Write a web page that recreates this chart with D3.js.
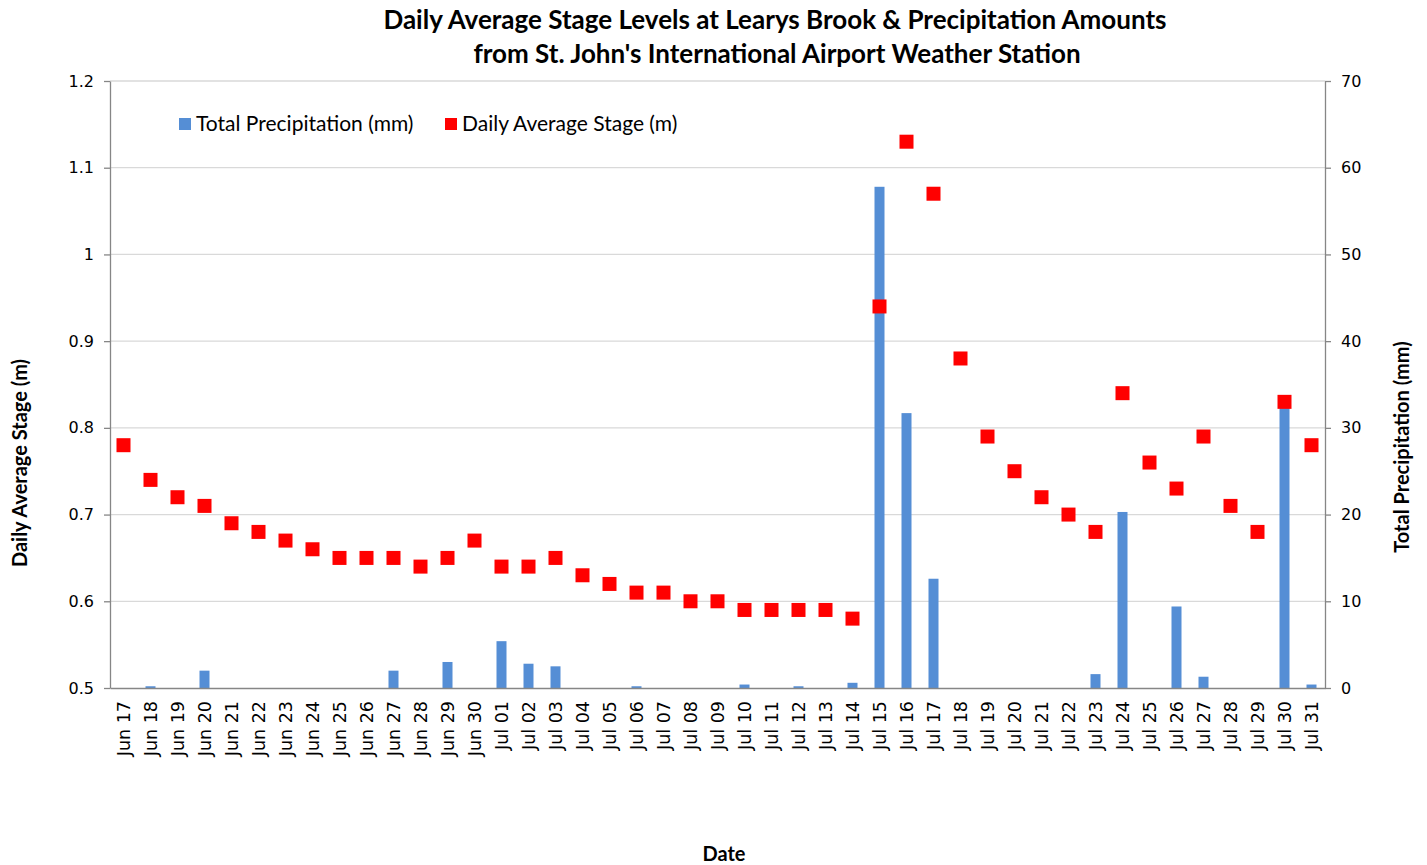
<!DOCTYPE html>
<html>
<head>
<meta charset="utf-8">
<script src="https://cdn.jsdelivr.net/npm/d3@7"></script>
<style>
  body { margin: 0; background: #fff; }
  text { font-family: "DejaVu Sans", sans-serif; fill: #000; }
  .title, .axis-title, .legend-label { font-family: Lato, "Open Sans", sans-serif; }
  .title, .axis-title { font-weight: bold; }
</style>
</head>
<body>
<div id="chart"></div>
<script>
// dates on the category axis
const dates = [
  'Jun 17','Jun 18','Jun 19','Jun 20','Jun 21','Jun 22','Jun 23','Jun 24','Jun 25','Jun 26',
  'Jun 27','Jun 28','Jun 29','Jun 30','Jul 01','Jul 02','Jul 03','Jul 04','Jul 05','Jul 06',
  'Jul 07','Jul 08','Jul 09','Jul 10','Jul 11','Jul 12','Jul 13','Jul 14','Jul 15','Jul 16',
  'Jul 17','Jul 18','Jul 19','Jul 20','Jul 21','Jul 22','Jul 23','Jul 24','Jul 25','Jul 26',
  'Jul 27','Jul 28','Jul 29','Jul 30','Jul 31'
];

// daily total precipitation (mm), right axis
const precipitation = [
  0, 0.2, 0, 2.0, 0, 0, 0, 0, 0, 0,
  2.0, 0, 3.0, 0, 5.4, 2.8, 2.5, 0, 0, 0.2,
  0, 0, 0, 0.4, 0, 0.2, 0, 0.6, 57.8, 31.7,
  12.6, 0, 0, 0, 0, 0, 1.6, 20.3, 0, 9.4,
  1.3, 0, 0, 32.4, 0.4
];

// daily average stage (m), left axis
const stage = [
  0.78, 0.74, 0.72, 0.71, 0.69, 0.68, 0.67, 0.66, 0.65, 0.65,
  0.65, 0.64, 0.65, 0.67, 0.64, 0.64, 0.65, 0.63, 0.62, 0.61,
  0.61, 0.60, 0.60, 0.59, 0.59, 0.59, 0.59, 0.58, 0.94, 1.13,
  1.07, 0.88, 0.79, 0.75, 0.72, 0.70, 0.68, 0.84, 0.76, 0.73,
  0.79, 0.71, 0.68, 0.83, 0.78
];

const stageTicks = [0.5, 0.6, 0.7, 0.8, 0.9, 1, 1.1, 1.2];
const precipTicks = [0, 10, 20, 30, 40, 50, 60, 70];

const width = 1427, height = 865;
const margin = { top: 81, right: 102, bottom: 177, left: 110 };
const innerW = width - margin.left - margin.right;
const innerH = height - margin.top - margin.bottom;

const svg = d3.select('#chart').append('svg')
  .attr('width', width)
  .attr('height', height);

const chart = svg.append('g')
  .attr('transform', `translate(${margin.left},${margin.top})`);

const x = d3.scaleBand().domain(dates).range([0, innerW]);
const yStage = d3.scaleLinear().domain([0.5, 1.2]).range([innerH, 0]);
const yPrecip = d3.scaleLinear().domain([0, 70]).range([innerH, 0]);

// horizontal gridlines
chart.append('g')
  .selectAll('line')
  .data(stageTicks.slice(1))
  .enter()
  .append('line')
  .attr('x1', 0)
  .attr('x2', innerW)
  .attr('y1', d => yStage(d))
  .attr('y2', d => yStage(d))
  .attr('stroke', '#d9d9d9')
  .attr('stroke-width', 1.3);

// precipitation bars
const barW = 10;
chart.append('g')
  .selectAll('rect')
  .data(precipitation)
  .enter()
  .append('rect')
  .attr('x', (d, i) => x(dates[i]) + x.bandwidth() / 2 - barW / 2)
  .attr('y', d => yPrecip(d))
  .attr('width', barW)
  .attr('height', d => innerH - yPrecip(d))
  .attr('fill', '#558ed5');

// stage markers
const mk = 14;
chart.append('g')
  .selectAll('rect')
  .data(stage)
  .enter()
  .append('rect')
  .attr('x', (d, i) => x(dates[i]) + x.bandwidth() / 2 - mk / 2)
  .attr('y', d => yStage(d) - mk / 2)
  .attr('width', mk)
  .attr('height', mk)
  .attr('fill', '#ff0000');

// axes
const styleAxis = (g, size) => {
  g.attr('font-family', null);
  g.select('.domain').attr('stroke', '#868686').attr('stroke-width', 1.3);
  g.selectAll('.tick line').attr('stroke', '#868686').attr('stroke-width', 1.3);
  g.selectAll('.tick text').style('font-size', size + 'px').attr('fill', '#000');
};

chart.append('g')
  .call(d3.axisLeft(yStage).tickValues(stageTicks).tickSize(6).tickPadding(10)
    .tickFormat(d => d3.format('')(+d.toFixed(1))).tickSizeOuter(0))
  .call(styleAxis, 16);

chart.append('g')
  .attr('transform', `translate(${innerW},0)`)
  .call(d3.axisRight(yPrecip).tickValues(precipTicks).tickSize(6).tickPadding(10).tickSizeOuter(0))
  .call(styleAxis, 16);

const xAxis = chart.append('g')
  .attr('transform', `translate(0,${innerH})`)
  .call(d3.axisBottom(x).tickSize(0).tickSizeOuter(0))
  .call(styleAxis, 17.5);
xAxis.selectAll('.tick text')
  .attr('transform', 'rotate(-90)')
  .attr('text-anchor', 'end')
  .attr('x', -13)
  .attr('y', 0)
  .attr('dy', '0.36em');

// titles
svg.append('text').attr('class', 'title')
  .attr('x', 775).attr('y', 29)
  .attr('text-anchor', 'middle')
  .style('font-size', '26px')
  .text('Daily Average Stage Levels at Learys Brook & Precipitation Amounts');
svg.append('text').attr('class', 'title')
  .attr('x', 777).attr('y', 63)
  .attr('text-anchor', 'middle')
  .style('font-size', '26px')
  .text("from St. John's  International Airport Weather Station");

svg.append('text').attr('class', 'axis-title')
  .attr('transform', 'translate(27,463) rotate(-90)')
  .attr('text-anchor', 'middle')
  .style('font-size', '20px')
  .text('Daily Average Stage (m)');

svg.append('text').attr('class', 'axis-title')
  .attr('transform', 'translate(1409,447) rotate(-90)')
  .attr('text-anchor', 'middle')
  .style('font-size', '20px')
  .text('Total Precipitation (mm)');

svg.append('text').attr('class', 'axis-title')
  .attr('x', 724).attr('y', 861)
  .attr('text-anchor', 'middle')
  .style('font-size', '20px')
  .text('Date');

// legend
const legendItems = [
  { key: 'Total Precipitation (mm)', color: '#558ed5', x: 179 },
  { key: 'Daily Average Stage (m)', color: '#ff0000', x: 445 }
];
legendItems.forEach(item => {
  const g = svg.append('g').attr('transform', `translate(${item.x},118)`);
  g.append('rect').attr('width', 12).attr('height', 12).attr('fill', item.color);
  g.append('text').attr('class', 'legend-label')
    .attr('x', 17).attr('y', 13)
    .style('font-size', '21px')
    .text(item.key);
});
</script>
</body>
</html>
